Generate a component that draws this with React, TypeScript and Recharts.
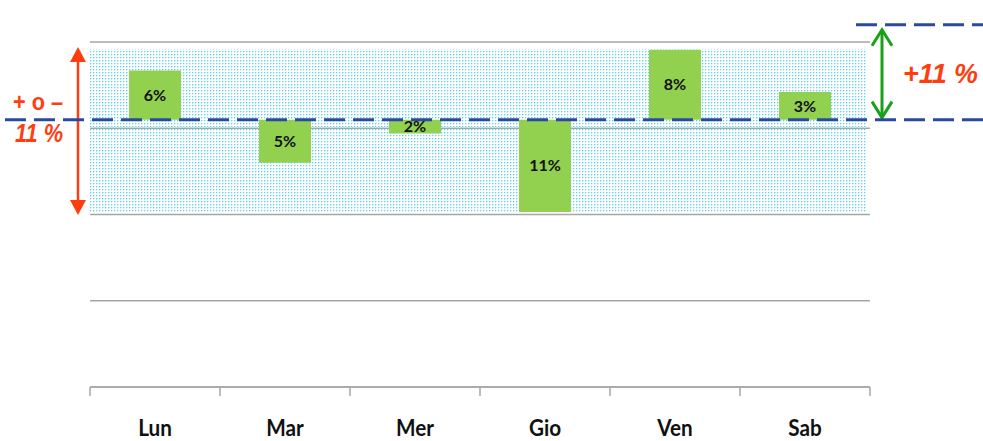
import React from 'react';
import {
  BarChart, Bar, XAxis, YAxis, CartesianGrid, ReferenceLine, ReferenceArea, LabelList,
} from 'recharts';

const days = ['Lun', 'Mar', 'Mer', 'Gio', 'Ven', 'Sab'];
const changes = [5.7, -5.0, -1.6, -10.7, 8.1, 3.2];
const changeLabels = ['6%', '5%', '2%', '11%', '8%', '3%'];
const baselineLevel = 31;
const upperLevel = 42;
const bandLow = 20.3;
const bandHigh = 39.2;
const gridTicks = [0, 10, 20, 30, 40];

const rows = days.map((day, i) => ({
  day,
  base: changes[i] >= 0 ? baselineLevel : baselineLevel + changes[i],
  size: Math.abs(changes[i]),
  label: changeLabels[i],
}));

const W = 983;
const H = 441;
const M = { top: 42, right: 113, bottom: 0, left: 90 };
const STEP = (W - M.left - M.right) / days.length;

const RED = '#ff3d0f';
const GREEN = '#18a018';
const DASH_BLUE = '#2b4a9e';
const GRID = '#a6a6a6';

// dotted band + red double arrow on the left
const BandShape = (p: any) => {
  const { x, y, width, height } = p;
  const ax = x - 12;
  const top = y - 2;
  const bot = y + height + 3;
  return (
    <g>
      <rect x={x} y={y} width={width - 3} height={height} fill="url(#dots)" />
      <line x1={ax} y1={top + 12} x2={ax} y2={bot - 12} stroke={RED} strokeWidth={2.5} />
      <polygon points={`${ax},${top} ${ax - 8},${top + 15} ${ax + 8},${top + 15}`} fill={RED} />
      <polygon points={`${ax},${bot} ${ax - 8},${bot - 15} ${ax + 8},${bot - 15}`} fill={RED} />
      <text x={13} y={110} fill={RED} fontFamily="Liberation Sans" fontWeight={700} fontSize={23}
        textLength={50} lengthAdjust="spacingAndGlyphs">+ o –</text>
      <text x={15} y={142} fill={RED} fontFamily="Liberation Sans" fontWeight={700} fontStyle="italic"
        fontSize={26} textLength={48} lengthAdjust="spacingAndGlyphs">11 %</text>
    </g>
  );
};

// green arrow between baseline and upper level on the right
const SpreadShape = (p: any) => {
  const { x, y, width, height } = p;
  const ax = x + width + 12;
  const top = y + 5;
  const bot = y + height - 2;
  return (
    <g>
      <line x1={ax} y1={top} x2={ax} y2={bot} stroke={GREEN} strokeWidth={3} />
      <polyline points={`${ax - 10},${top + 16} ${ax},${top} ${ax + 10},${top + 16}`} fill="none" stroke={GREEN} strokeWidth={3} />
      <polyline points={`${ax - 10},${bot - 16} ${ax},${bot} ${ax + 10},${bot - 16}`} fill="none" stroke={GREEN} strokeWidth={3} />
      <text x={903} y={83} fill={RED} fontFamily="Liberation Sans" fontWeight={700} fontStyle="italic"
        fontSize={27} textLength={75} lengthAdjust="spacingAndGlyphs">+11 %</text>
    </g>
  );
};

const BaseDash = (p: any) => (
  <line x1={5} y1={p.y1} x2={W} y2={p.y2} stroke={DASH_BLUE} strokeWidth={3} strokeDasharray="21 8" />
);

const UpperDash = (p: any) => (
  <line x1={p.x2 - 14} y1={p.y1} x2={W} y2={p.y2} stroke={DASH_BLUE} strokeWidth={3} strokeDasharray="21 8" />
);

// category label plus tick marks on the category boundaries
const DayTick = (p: any) => {
  const { x, y, payload, index } = p;
  const half = STEP / 2;
  return (
    <g>
      <line x1={x - half} y1={y} x2={x - half} y2={y + 9} stroke={GRID} strokeWidth={1.5} />
      {index === days.length - 1 && (
        <line x1={x + half} y1={y} x2={x + half} y2={y + 9} stroke={GRID} strokeWidth={1.5} />
      )}
      <text
        transform={`translate(${x},${y + 49}) scale(0.9,1)`}
        textAnchor="middle"
        fill="#111"
        fontFamily="Lato"
        fontWeight={700}
        fontSize={23}
      >
        {payload.value}
      </text>
    </g>
  );
};

export default function App() {
  return (
    <div style={{ position: 'fixed', left: 0, top: 0, background: '#fff' }}>
      <BarChart width={W} height={H} data={rows} margin={M} barSize={52}>
        <defs>
          <pattern id="dots" width={3} height={3} patternUnits="userSpaceOnUse">
            <rect x={0} y={0} width={1} height={1} fill="#5fd2f3" />
            <rect x={1} y={0} width={1} height={1} fill="#c4effb" />
            <rect x={0} y={1} width={1} height={1} fill="#c4effb" />
          </pattern>
        </defs>
        <CartesianGrid vertical={false} stroke={GRID} strokeWidth={1.3} />
        <ReferenceArea y1={bandLow} y2={bandHigh} shape={<BandShape />} ifOverflow="visible" />
        <XAxis
          dataKey="day"
          height={54}
          axisLine={{ stroke: GRID, strokeWidth: 1.3 }}
          tickLine={false}
          tickSize={0}
          tickMargin={0}
          interval={0}
          tick={<DayTick />}
        />
        <YAxis hide domain={[0, 40]} ticks={gridTicks} width={0} />
        <Bar dataKey="base" stackId="s" fill="transparent" isAnimationActive={false} />
        <Bar dataKey="size" stackId="s" fill="#92d050" isAnimationActive={false}>
          <LabelList dataKey="label" position="center" fill="#111" fontFamily="Lato" fontWeight={700} fontSize={16} />
        </Bar>
        <ReferenceArea y1={baselineLevel} y2={upperLevel} shape={<SpreadShape />} ifOverflow="visible" />
        <ReferenceLine y={baselineLevel} shape={<BaseDash />} ifOverflow="visible" />
        <ReferenceLine y={upperLevel} shape={<UpperDash />} ifOverflow="visible" />
      </BarChart>
    </div>
  );
}
